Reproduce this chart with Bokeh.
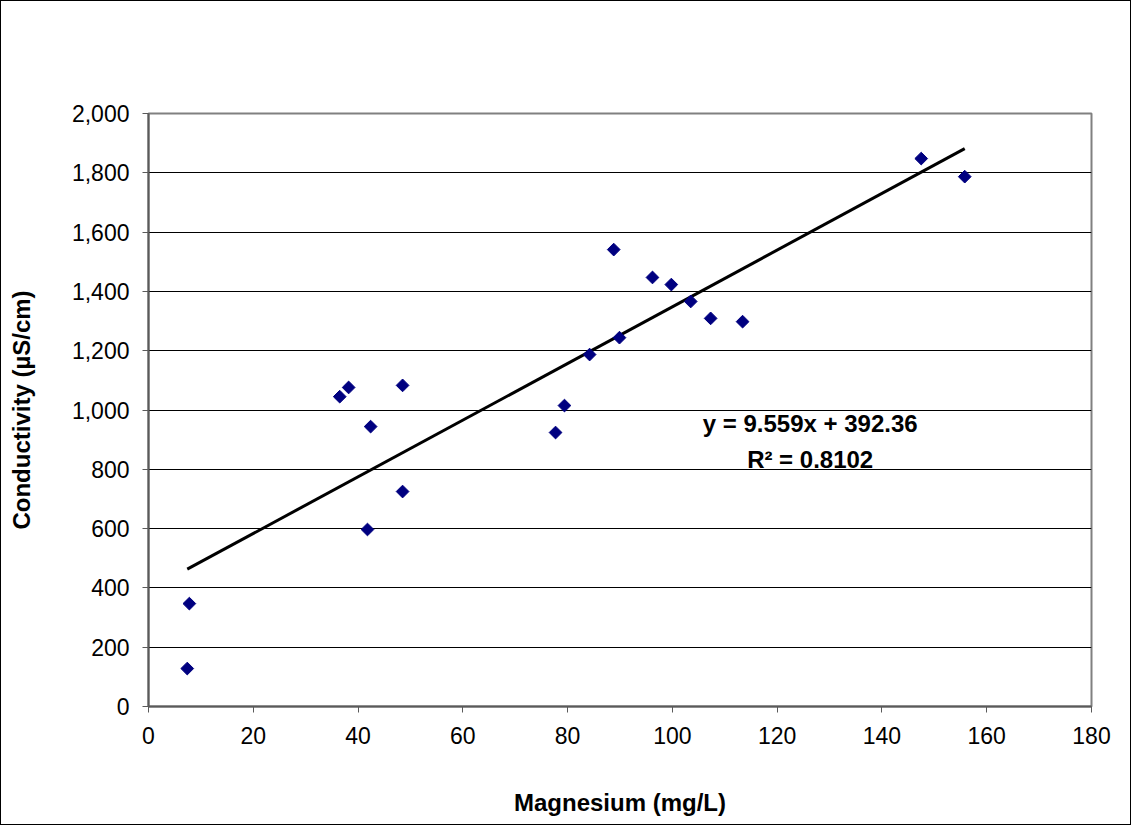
import numpy as np
from bokeh.plotting import figure
from bokeh.models import Range1d, FixedTicker, NumeralTickFormatter
from bokeh.core.properties import value
from bokeh.embed import file_html
from bokeh.resources import INLINE

# Magnesium (mg/L) vs conductivity (uS/cm) samples
magnesium = [7.4, 7.8, 36.5, 38.2, 42.4, 41.8, 48.5, 48.5, 77.7, 79.4,
             84.2, 88.8, 89.9, 96.2, 99.8, 103.5, 107.3, 113.4, 147.5, 155.8]
conductivity = [128, 347, 1045, 1076, 944, 597, 1083, 725, 924, 1015,
                1187, 1541, 1244, 1447, 1423, 1366, 1309, 1298, 1848, 1787]

# Linear fit reported on the chart
slope = 9.559
intercept = 392.36
r_squared = 0.8102

x_ticks = list(range(0, 181, 20))
y_ticks = list(range(0, 2001, 200))

FONT = "Liberation Sans"

p = figure(
    width=1131, height=825,
    x_range=Range1d(0, 180), y_range=Range1d(0, 2000),
    output_backend="svg", toolbar_location=None,
    min_border_left=147, min_border_right=41,
    min_border_top=112, min_border_bottom=120,
)
p.styles = {"border": "1px solid black"}
p.background_fill_color = "white"
p.border_fill_color = "white"
p.outline_line_color = "#808080"
p.outline_line_width = 2

p.xgrid.visible = False
p.ygrid.grid_line_color = "#000000"
p.ygrid.grid_line_width = 1
p.ygrid.ticker = FixedTicker(ticks=y_ticks)

for ax in (p.xaxis[0], p.yaxis[0]):
    ax.axis_line_color = "#5a5a5a"
    ax.axis_line_width = 2
    ax.major_tick_line_color = "#5a5a5a"
    ax.major_tick_line_width = 1
    ax.major_tick_in = 0
    ax.major_tick_out = 6
    ax.minor_tick_line_color = None
    ax.major_label_text_font = FONT
    ax.major_label_text_font_size = "23px"
    ax.major_label_text_color = "black"
    ax.axis_label_text_font = FONT
    ax.axis_label_text_font_size = "24px"
    ax.axis_label_text_font_style = "bold"
    ax.axis_label_text_color = "black"

p.xaxis.ticker = FixedTicker(ticks=x_ticks)
p.xaxis.axis_label = "Magnesium (mg/L)"
p.xaxis.major_label_standoff = 14
p.xaxis.axis_label_standoff = 42

p.yaxis.ticker = FixedTicker(ticks=y_ticks)
p.yaxis.formatter = NumeralTickFormatter(format="0,0")
p.yaxis.axis_label = "Conductivity (µS/cm)"
p.yaxis.major_label_standoff = 13
p.yaxis.axis_label_standoff = 34

# Trend line across the sampled magnesium range
x_fit = np.array([min(magnesium), max(magnesium)])
y_fit = slope * x_fit + intercept
p.line(x_fit, y_fit, line_color="black", line_width=3)

p.scatter(magnesium, conductivity, marker="square", angle=np.pi / 4,
          size=9, fill_color="#000080", line_color="#000080")

eq_x = 126.3
p.text([eq_x], [955], text=[f"y = {slope}x + {intercept}"],
       text_font=value(FONT), text_font_size="24px", text_font_style="bold",
       text_align="center", text_baseline="middle", text_color="black")
p.text([eq_x], [833], text=[f"R² = {r_squared}"],
       text_font=value(FONT), text_font_size="24px", text_font_style="bold",
       text_align="center", text_baseline="middle", text_color="black")

open("out.html", "w").write(file_html(p, INLINE))
